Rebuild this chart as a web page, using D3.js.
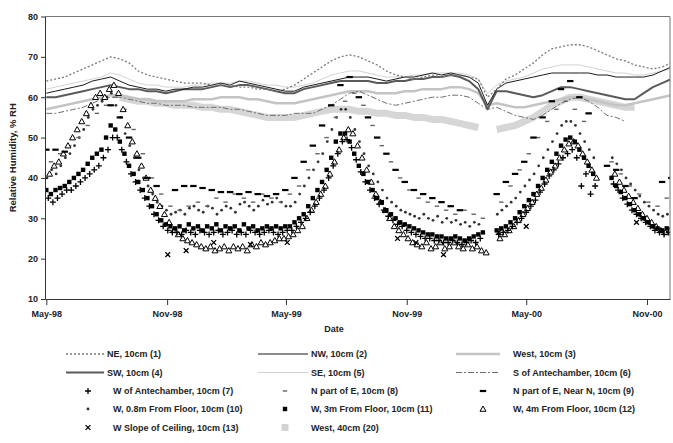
<!DOCTYPE html>
<html>
<head>
<meta charset="utf-8">
<script src="https://cdn.jsdelivr.net/npm/d3@7"></script>
<style>
  body { margin: 0; background: #fff; }
  svg { font-family: "Liberation Sans", Arial, sans-serif; font-weight: bold; }
</style>
</head>
<body>
<div id="plot"></div>
<script>
// ---- data ----

// line series sampled every 14 days from 1 May 1998
const lineStart = new Date(1998, 4, 1);
const ne10 = [64,64.5,65,66,67,68,69,70,69.5,68.5,
  66.5,65.5,65,64.5,64,63.5,63.5,63.5,63,63,
  63,62.5,62.5,62,62,61.5,62,63,64.5,66,
  67.5,69,70,70.5,70,69,68,66.5,65.5,65,
  64.5,65,65.5,65,65.5,65.5,65,64.5,60,62,
  64.5,65.5,67,68.5,70.5,72,72.5,73,73,72.5,
  71.5,70.5,69.5,69,68,67.5,67,67.5,68.5];
const nw10 = [61,61.5,62,62.5,63,64,64.5,65,64,63,
  62.5,62,62,61.5,62,62,62.5,62.5,63,63.5,
  63,64,63.5,63,62.5,62,61.5,61.5,62.5,63,
  63.5,64,64.5,65,65,65,64.5,64,64.5,65,
  65,65.5,66,65.5,66,65.5,65,63.5,58,62,
  63.5,64,64.5,65,65.5,66,66,66,66,66,
  65.5,65.5,65,65,65,65,65.5,66.5,67.5];
const west10 = [57,57.5,58,58.5,59,59.5,60,60.5,60.5,60,
  59.5,59.5,59,59,59,59,59.5,59.5,59.5,60,
  60,60,59.5,59.5,59,58.5,58.5,58.5,59,59.5,
  60,60.5,61,61.5,61.5,61.5,61,61,61,61.5,
  61.5,62,62,62,62.5,62.5,62,61,58,58.5,
  58,57.5,57.5,58,58.5,59,59.5,60,60,59.5,
  59,58.5,58,58,58.5,59,59.5,60,60.5];
const sw10 = [60,60,60.5,61,61.5,62,62.5,63,62.5,62,
  62,61.5,61.5,61,61.5,62,62,62,62.5,63,
  62.5,63,63,62.5,62,61.5,61,61,62,62.5,
  63,63.5,64,64,64,64,63.5,63.5,64,64,
  64.5,64.5,65,65,65.5,65,64,62,57,61.5,
  61.5,61,60.5,60,60.5,61.5,62.5,62.5,62,61.5,
  61,60.5,60,59.5,59.5,61,62.5,63.5,64.5];
const se10 = [62,62.5,63,63.5,64,64.5,65,66,65.5,64.5,
  63.5,63,63,62.5,62.5,62.5,63,63,63.5,63.5,
  63.5,64,64,63.5,63,63,62.5,62.5,63,63.5,
  64.5,65.5,66,66.5,66.5,66,65.5,65,65,65,
  65.5,65.5,66,66,66,66,65.5,64.5,61,63,
  64,64.5,65,66,67,67.5,68,68,68,67.5,
  67,66.5,66,66,65.5,65.5,66,66.5,67];
const sAnte10 = [56,56,56.5,57,57.5,58.5,59.5,60,60,59.5,
  59,58.5,58.5,58,58,58,57.5,57.5,57.5,57.5,
  57,57,56.5,56,55.5,55.5,55.5,56,56,56,
  57,58,59.5,61,61.5,60.5,59.5,58.5,58,58.5,
  59,59.5,60,60,60.5,60.5,60,58.5,57,57.5,
  56.5,55.5,55,54.5,55.5,57,58.5,59.5,60,59,
  57.5,55.5,55,54,null,null,null,null,null];
const west40 = [null,null,null,null,null,null,null,null,60,59.5,
  59,59,58.5,58.5,58,58,58,57.5,57.5,57,
  57,56.5,56,55.5,55,55,55,55,55.5,56,
  56.5,57,57,57,56.5,56.5,56,56,55.5,55.5,
  55,55,54.5,54.5,54,53.5,53,52.5,null,52,
  52.5,53,54,55,56.5,58,59,60,60,59.5,
  59,58.5,58,57.5,57.5,null,null,null,null];

// sparse point series, every 14 days (own first reading dates)
const nPartEStart = new Date(1998, 4, 8);
const nPartE = [44,46,48,50,53,56,58,60,57,52,
  46,40,36,33,32,33,34,33,35,34,
  36,35,34,36,35,34,36,38,42,46,
  50,55,59,61,58,53,48,44,40,37,
  35,34,33,32,31,32,31,30,null,34,
  38,42,46,50,54,57,59,57,54,null,
  null,44,41,38,36,34,33,35,36];
const nPartENearNStart = new Date(1998, 4, 1);
const nPartENearN = [47,47,46.5,null,null,null,null,58,55,50,
  45,40,38,null,37,38,38,37.5,37,36.5,
  36.5,36,36.5,36,35.5,36,37,40,44,48,
  53,58,63,65,60,55,50,46,42,39,
  37,36,35,34,33,32,null,null,null,36,
  39,41,44,50,55,59,62,64,60,56,
  null,43,42,38,35,null,null,39,40];
const wSlopeStart = new Date(1998, 4, 4);
const wSlope = [null,null,null,null,null,null,null,null,null,null,
  null,null,null,21,null,22,null,null,24,null,
  null,null,23.5,null,null,null,24,null,null,null,
  null,null,null,null,null,null,null,null,25,null,
  24,null,null,21,null,null,null,null,null,26.5,
  null,null,28,null,null,null,null,null,null,null,
  null,null,null,null,29,null,null,null,null];

// dense point series, every 7 days (own first reading dates)
const wAnteStart = new Date(1998, 4, 4);
const wAnte = [35,34,35,36,37,37,38,39,40,41,
  42,43,45,47,50,50,47,44,41,39,
  37,35,33,31,29.5,28,27,26.5,26.5,26,
  27,26.5,26,27,26.5,26,26.5,27,26,26.5,
  27,26,26.5,26,27,26.5,26,26.5,27,26.5,
  26,26.5,27,27,28,29,30,31.5,33,35,
  37,40,43,46,49,49.5,47.5,44.5,41.5,39,
  37,35,33.5,32,30.5,29.5,28.5,28,27,26.5,
  26,25.5,25,25,24.5,24.5,24,24,24.5,24,
  23.5,24,24.5,24,25,null,null,null,26,26.5,
  27,28,29,30,31.5,33,34.5,36.5,38.5,40.5,
  42,43.5,45,46,47,45,38,41,36,38,
  null,null,null,38.5,37,35,33.5,32,31,30,
  29,28,27,26.5,26,26.5];
const w08Start = new Date(1998, 4, 2);
const w08 = [40,42,41,43,45,46,48,50,52,55,
  57,58,59,60,61,58,55,51,48,45,
  42,40,38,36,34,33,32,31,31.5,32,
  31,32.5,33,32,31.5,33,32.5,31,32,33,
  32.5,31.5,33.5,34,33,32,33,34.5,33.5,34,
  35,34,33,33,34,36,38,40,42,44,
  46,49,52,55,57,57,55,52,49,46,
  43,41,39,37,35,34,33,32,31.5,31,
  30.5,30,31,30,29.5,30.5,29,30,29,29.5,
  28.5,29,28,29,28.5,null,null,null,31,32,
  33,34,35,36.5,38,39.5,41,43,45,47,
  49,51,53,54,54,53,51,49,47,45,
  null,null,null,45,43.5,42,40,38.5,37,35.5,
  34,33,32,31,30.5,31];
const w3mStart = new Date(1998, 4, 1);
const w3m = [37,36,37,37.5,38,39,40,41,42,43.5,
  45,46,47,50,53,52,49,46,43,41,
  39,37,35,33,31,29.5,28.5,28,27.5,28,
  27,28.5,27.5,28,27,28,27.5,28.5,27,28,
  27.5,28,27,28.5,27.5,28,27,27.5,28,27.5,
  28,27.5,28,28,29,30,31,33,35,37,
  39,42,45,49,51,51,49,46,43,41,
  39,37,35,34,32,31,30,29,28.5,28,
  27.5,27,26.5,26,26,25.5,25.5,25,25,25.5,
  25,24.5,25,25.5,26,26.5,null,null,27,27.5,
  28,29,30,31.5,33,34.5,36,38,40,42,
  44,46,48,49.5,50,49,47,45,43,41,
  null,null,null,40,38,36.5,35,33.5,32,31,
  30,29,28,27.5,27,27.5];
const w4mStart = new Date(1998, 4, 6);
const w4m = [41,43,44,46,48,50,52,54,56,58,
  60,61,60,62,63,61,57,53,49,46,
  43,40,37,35,33,31,29,27,26,25,
  24.5,24,23.5,23,22.5,23,22,22.5,23,22,
  23,22.5,23,22,23.5,23,24,23.5,24,24.5,
  25,25,25.5,26,27,28,30,32,34,36,
  38,41,44,47,50,52,51,48,45,42,
  39,36,34,32,30,28,27,26,25,24,
  23.5,23,24,22.5,23,24,22.5,23,24,23,
  22.5,23.5,22.5,23,22,21.5,null,null,25,26,
  27,28,29.5,31,32.5,34,36,37.5,39.5,41.5,
  43,45,47,48.5,49,48,46,44,42,40,
  null,null,null,41,39,37,35.5,34,32.5,31,
  30,29,28,27,26.5,27];

const yTicks = [10, 20, 30, 40, 50, 60, 70, 80];
const xTicks = [new Date(1998,4,1), new Date(1998,10,1), new Date(1999,4,1),
                new Date(1999,10,1), new Date(2000,4,1), new Date(2000,10,1)];

const legendLabels = [
  "NE, 10cm (1)", "NW, 10cm (2)", "West, 10cm (3)",
  "SW, 10cm (4)", "SE, 10cm (5)", "S of Antechamber, 10cm (6)",
  "W of Antechamber, 10cm (7)", "N part of E, 10cm (8)", "N part of E, Near N, 10cm (9)",
  "W, 0.8m From Floor, 10cm (10)", "W, 3m From Floor, 10cm (11)", "W, 4m From Floor, 10cm (12)",
  "W Slope of Ceiling, 10cm (13)", "West, 40cm (20)"
];

// ---- chart ----
const w = 673, h = 443;
const plot = {left: 45, right: 670, top: 16.5, bottom: 299};

const svg = d3.select("#plot").append("svg")
    .attr("width", w)
    .attr("height", h);

svg.append("rect").attr("width", w).attr("height", h).attr("fill", "#fff");

const xScale = d3.scaleTime()
    .domain([new Date(1998, 3, 29), new Date(2000, 11, 6)])
    .range([plot.left, plot.right]);

const yScale = d3.scaleLinear()
    .domain([10, 80])
    .range([plot.bottom, plot.top]);

svg.append("defs").append("clipPath").attr("id", "clip")
  .append("rect")
    .attr("x", plot.left).attr("y", plot.top)
    .attr("width", plot.right - plot.left).attr("height", plot.bottom - plot.top);

const toPts = (arr, start, step) => arr.map((v, i) => ({date: d3.timeDay.offset(start, i * step), v: v}));

const line = d3.line()
    .defined(d => d.v != null)
    .x(d => xScale(d.date))
    .y(d => yScale(d.v));

const g = svg.append("g").attr("clip-path", "url(#clip)");

// line styles
const lineStyles = {
  west40: {stroke: "#d6d6d6", width: 7, dash: null},
  west10: {stroke: "#c4c4c4", width: 2.5, dash: null},
  se10:   {stroke: "#d2d2d2", width: 1, dash: null},
  sAnte:  {stroke: "#6e6e6e", width: 1, dash: "6,2,2,2"},
  sw10:   {stroke: "#5a5a5a", width: 2, dash: null},
  nw10:   {stroke: "#1a1a1a", width: 1, dash: null},
  ne10:   {stroke: "#7a7a7a", width: 1.3, dash: "2,2"}
};

const lineSeries = [
  ["west40", west40], ["west10", west10], ["se10", se10], ["sAnte", sAnte10],
  ["sw10", sw10], ["nw10", nw10], ["ne10", ne10]
];

lineSeries.forEach(([key, arr]) => {
  const st = lineStyles[key];
  g.append("path")
      .datum(toPts(arr, lineStart, 14))
      .attr("fill", "none")
      .attr("stroke", st.stroke)
      .attr("stroke-width", st.width)
      .attr("stroke-dasharray", st.dash)
      .attr("stroke-linejoin", "round")
      .attr("d", line);
});

// marker drawing
function marker(sel, type) {
  if (type === "plus") {
    sel.append("path").attr("d", "M-3,0H3M0,-3V3").attr("stroke", "#000").attr("stroke-width", 1.3);
  } else if (type === "cross") {
    sel.append("path").attr("d", "M-2.4,-2.4L2.4,2.4M-2.4,2.4L2.4,-2.4").attr("stroke", "#000").attr("stroke-width", 1.3);
  } else if (type === "dash") {
    sel.append("rect").attr("x", -2.2).attr("y", -0.7).attr("width", 4.4).attr("height", 1.4).attr("fill", "#666");
  } else if (type === "eq") {
    sel.append("rect").attr("x", -3.2).attr("y", -1.1).attr("width", 6.4).attr("height", 2.2).attr("fill", "#000");
  } else if (type === "dot") {
    sel.append("circle").attr("r", 1.4).attr("fill", "#333");
  } else if (type === "square") {
    sel.append("rect").attr("x", -2.2).attr("y", -2.2).attr("width", 4.4).attr("height", 4.4).attr("fill", "#000");
  } else if (type === "tri") {
    sel.append("path").attr("d", "M0,-3L3,2.3L-3,2.3Z").attr("fill", "#fff").attr("stroke", "#000").attr("stroke-width", 1);
  } else if (type === "bigsq") {
    sel.append("rect").attr("x", -3.5).attr("y", -3.5).attr("width", 7).attr("height", 7).attr("fill", "#d3d3d3");
  }
}

const pointSeries = [
  [w08, w08Start, 7, "dot"],
  [nPartE, nPartEStart, 14, "dash"],
  [w4m, w4mStart, 7, "tri"],
  [w3m, w3mStart, 7, "square"],
  [wAnte, wAnteStart, 7, "plus"],
  [wSlope, wSlopeStart, 14, "cross"],
  [nPartENearN, nPartENearNStart, 14, "eq"]
];

pointSeries.forEach(([arr, start, step, type]) => {
  g.append("g").selectAll("g")
    .data(toPts(arr, start, step).filter(d => d.v != null))
    .enter().append("g")
      .attr("transform", d => `translate(${xScale(d.date)},${yScale(d.v)})`)
      .each(function() { marker(d3.select(this), type); });
});

// frame
svg.append("path")
    .attr("d", `M${plot.left},${plot.top}H${plot.right}V${plot.bottom}`)
    .attr("fill", "none")
    .attr("stroke", "#777")
    .attr("stroke-width", 1);

// axes
const yAxis = d3.axisLeft(yScale).tickValues(yTicks).tickSize(4).tickSizeOuter(0).tickPadding(3);
const xAxis = d3.axisBottom(xScale).tickValues(xTicks).tickSize(6).tickSizeOuter(0)
    .tickPadding(6).tickFormat(d3.timeFormat("%b-%y"));

const ya = svg.append("g")
    .attr("transform", `translate(${plot.left},0)`)
    .call(yAxis);
const xa = svg.append("g")
    .attr("transform", `translate(0,${plot.bottom})`)
    .call(xAxis);

[ya, xa].forEach(a => {
  a.select(".domain").attr("stroke", "#333");
  a.selectAll(".tick line").attr("stroke", "#333");
  a.selectAll("text").attr("fill", "#222").attr("font-size", 9)
    .attr("font-family", "'Liberation Sans', Arial, sans-serif").attr("font-weight", "bold");
});

svg.append("text")
    .attr("transform", `translate(16,${(plot.top + plot.bottom) / 2}) rotate(-90)`)
    .attr("text-anchor", "middle")
    .attr("font-size", 9.5)
    .attr("fill", "#222")
    .text("Relative Humidity, % RH");

svg.append("text")
    .attr("x", 334)
    .attr("y", 332)
    .attr("text-anchor", "middle")
    .attr("font-size", 9)
    .attr("fill", "#222")
    .text("Date");

// legend
const legendKinds = [
  "ne10", "nw10", "west10",
  "sw10", "se10", "sAnte",
  "plus", "dash", "eq",
  "dot", "square", "tri",
  "cross", "bigsq"
];
const rowY = [354, 372.5, 391, 409, 427.5];
const cols = [
  {lx1: 66, lx2: 104, mx: 88, tx: 107, mtx: 113},
  {lx1: 258, lx2: 308, mx: 285, tx: 311, mtx: 311},
  {lx1: 456, lx2: 500, mx: 483, tx: 513, mtx: 513}
];

const legend = svg.append("g");
legendLabels.forEach((lab, i) => {
  const c = cols[i % 3], y = rowY[Math.floor(i / 3)];
  const kind = legendKinds[i];
  const st = lineStyles[kind];
  let tx = c.tx;
  if (st) {
    legend.append("line")
        .attr("x1", c.lx1).attr("x2", c.lx2).attr("y1", y).attr("y2", y)
        .attr("stroke", st.stroke)
        .attr("stroke-width", Math.min(st.width, 2.5))
        .attr("stroke-dasharray", st.dash);
  } else {
    const m = legend.append("g").attr("transform", `translate(${c.mx},${y})`);
    marker(m, kind);
    tx = c.mtx;
  }
  legend.append("text")
      .attr("x", tx)
      .attr("y", y + 3.2)
      .attr("font-size", 9)
      .attr("fill", "#222")
      .text(lab);
});
</script>
</body>
</html>
